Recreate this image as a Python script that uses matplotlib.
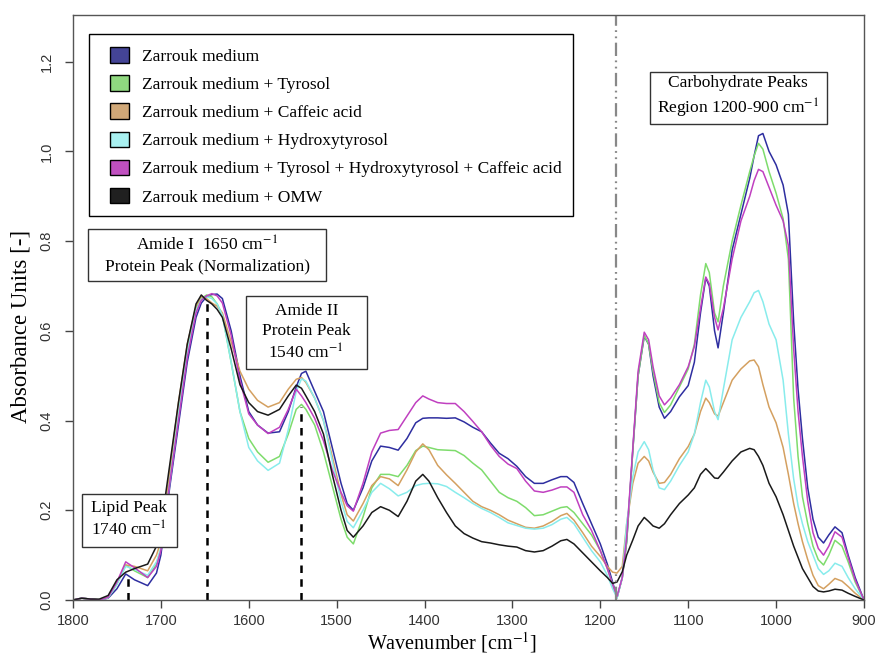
import numpy as np
import matplotlib
matplotlib.use("Agg")
import matplotlib.pyplot as plt
from matplotlib.patches import Patch, Rectangle

plt.rcParams['mathtext.fontset'] = 'stix'

# wavenumber grid (cm-1) and absorbance
wn = [1800, 1790, 1780, 1770, 1760, 1750, 1740, 1730, 1715, 1705, 1700,
      1690, 1680, 1670, 1660, 1654, 1648, 1642, 1636, 1630, 1620, 1610, 1600, 1590,
      1578, 1565, 1555, 1546, 1540, 1535, 1525, 1515, 1505, 1495, 1488, 1481,
      1470, 1460, 1450, 1440, 1430, 1420, 1410, 1402, 1395, 1385, 1375, 1365, 1355,
      1345, 1335, 1325, 1315, 1305, 1295, 1285, 1275, 1265, 1255, 1245, 1238, 1230,
      1220, 1210, 1200,
      1192, 1186, 1181, 1175, 1170, 1163, 1157, 1150, 1145, 1140, 1133, 1127, 1120,
      1110, 1100, 1093, 1086, 1080, 1076, 1070, 1066, 1060, 1050, 1040, 1030, 1025,
      1020, 1015, 1008, 1000,
      992, 986, 980, 975, 970, 964, 958, 952, 946, 940, 933, 925, 918, 910, 900]

zarrouk = [0, 0.004, 0.002, 0, 0.004, 0.025, 0.058, 0.045, 0.032, 0.06, 0.1,
           0.25, 0.39, 0.53, 0.63, 0.662, 0.676, 0.681, 0.682, 0.672, 0.6, 0.5, 0.42, 0.39,
           0.372, 0.375, 0.42, 0.475, 0.505, 0.51, 0.465, 0.42, 0.34, 0.26, 0.215, 0.2,
           0.25, 0.31, 0.343, 0.34, 0.334, 0.36, 0.395, 0.405, 0.406, 0.406, 0.405, 0.406, 0.397,
           0.385, 0.375, 0.35, 0.327, 0.315, 0.298, 0.275, 0.26, 0.26, 0.268, 0.275, 0.275, 0.262,
           0.215, 0.17, 0.125,
           0.08, 0.04, 0.005, 0.05, 0.13, 0.334, 0.5, 0.588, 0.57, 0.5, 0.43, 0.405, 0.42,
           0.453, 0.478, 0.53, 0.64, 0.718, 0.7, 0.6, 0.562, 0.64, 0.78, 0.86, 0.94, 0.99,
           1.035, 1.04, 1.0, 0.97,
           0.925, 0.86, 0.62, 0.47, 0.36, 0.25, 0.18, 0.14, 0.127, 0.145, 0.163, 0.15, 0.1, 0.05, 0]

tyrosol = [0, 0.004, 0.002, 0, 0.005, 0.035, 0.078, 0.065, 0.05, 0.08, 0.115,
           0.27, 0.41, 0.55, 0.65, 0.672, 0.68, 0.676, 0.66, 0.635, 0.53, 0.42, 0.36, 0.33,
           0.307, 0.32, 0.37, 0.425, 0.436, 0.425, 0.39, 0.33, 0.255, 0.18, 0.14, 0.125,
           0.185, 0.25, 0.28, 0.28, 0.275, 0.3, 0.333, 0.343, 0.34, 0.335, 0.334, 0.333, 0.322,
           0.305, 0.29, 0.265, 0.24, 0.228, 0.22, 0.206, 0.188, 0.19, 0.198, 0.206, 0.208, 0.195,
           0.17, 0.145, 0.11,
           0.07, 0.035, 0.005, 0.05, 0.13, 0.334, 0.5, 0.59, 0.57, 0.51, 0.44, 0.418, 0.435,
           0.475, 0.515, 0.57, 0.68, 0.75, 0.73, 0.64, 0.62, 0.70, 0.8, 0.88, 0.955, 0.99,
           1.018, 1.005, 0.955, 0.907,
           0.85, 0.76, 0.45, 0.32, 0.23, 0.17, 0.12, 0.09, 0.078, 0.1, 0.133, 0.12, 0.085, 0.04, 0]

caffeic = [0, 0.004, 0.002, 0, 0.006, 0.04, 0.078, 0.075, 0.065, 0.1, 0.13,
           0.29, 0.44, 0.57, 0.655, 0.676, 0.672, 0.662, 0.655, 0.64, 0.575, 0.51, 0.47, 0.445,
           0.43, 0.44, 0.47, 0.492, 0.496, 0.485, 0.45, 0.4, 0.32, 0.235, 0.19, 0.176,
           0.215, 0.255, 0.275, 0.27, 0.255, 0.29, 0.33, 0.348, 0.335, 0.3, 0.279, 0.26, 0.24,
           0.22, 0.208, 0.2, 0.19, 0.178, 0.17, 0.162, 0.16, 0.165, 0.175, 0.188, 0.193, 0.178,
           0.15, 0.12, 0.097,
           0.075, 0.062, 0.06, 0.075, 0.17, 0.26, 0.305, 0.32, 0.31, 0.285, 0.26, 0.262, 0.28,
           0.315, 0.342, 0.37, 0.42, 0.45, 0.44, 0.415, 0.41, 0.44, 0.49, 0.515, 0.533, 0.535,
           0.52, 0.48, 0.43, 0.395,
           0.34, 0.28, 0.215, 0.17, 0.13, 0.09, 0.055, 0.032, 0.025, 0.035, 0.048, 0.042, 0.03, 0.015, 0]

hydroxy = [0, 0.004, 0.002, 0, 0.005, 0.035, 0.075, 0.068, 0.055, 0.085, 0.115,
           0.26, 0.41, 0.55, 0.645, 0.67, 0.676, 0.672, 0.66, 0.635, 0.53, 0.42, 0.34, 0.31,
           0.289, 0.305, 0.38, 0.465, 0.493, 0.488, 0.45, 0.4, 0.31, 0.22, 0.175, 0.161,
           0.2, 0.24, 0.26, 0.248, 0.232, 0.24, 0.255, 0.259, 0.26, 0.259, 0.253, 0.24, 0.228,
           0.215, 0.204, 0.195, 0.184, 0.172, 0.166, 0.16, 0.158, 0.16, 0.168, 0.18, 0.184, 0.17,
           0.14, 0.11, 0.085,
           0.055, 0.025, 0.005, 0.05, 0.17, 0.275, 0.33, 0.353, 0.335, 0.29, 0.25, 0.246, 0.265,
           0.3, 0.33, 0.37, 0.44, 0.49, 0.475, 0.42, 0.402, 0.47, 0.58, 0.63, 0.665, 0.685,
           0.69, 0.665, 0.615, 0.58,
           0.49, 0.37, 0.27, 0.21, 0.17, 0.13, 0.1, 0.07, 0.057, 0.065, 0.082, 0.075, 0.05, 0.025, 0]

mix = [0, 0.004, 0.002, 0, 0.006, 0.04, 0.085, 0.072, 0.05, 0.075, 0.11,
       0.26, 0.4, 0.54, 0.64, 0.668, 0.678, 0.683, 0.678, 0.662, 0.59, 0.49, 0.415, 0.39,
       0.371, 0.385, 0.425, 0.47, 0.455, 0.44, 0.405, 0.355, 0.29, 0.24, 0.21, 0.198,
       0.26, 0.33, 0.372, 0.378, 0.38, 0.41, 0.44, 0.455, 0.448, 0.44, 0.438, 0.438, 0.42,
       0.398, 0.375, 0.345, 0.32, 0.303, 0.293, 0.265, 0.243, 0.24, 0.245, 0.252, 0.252, 0.24,
       0.19, 0.155, 0.11,
       0.07, 0.035, 0.008, 0.05, 0.14, 0.34, 0.51, 0.597, 0.58, 0.52, 0.455, 0.435, 0.45,
       0.48, 0.52, 0.565, 0.65, 0.72, 0.705, 0.63, 0.602, 0.65, 0.76, 0.845, 0.9, 0.935,
       0.96, 0.955, 0.92, 0.88,
       0.845, 0.79, 0.56, 0.42, 0.32, 0.22, 0.15, 0.115, 0.1, 0.12, 0.152, 0.14, 0.095, 0.045, 0]

omw = [0, 0.004, 0.002, 0.002, 0.01, 0.045, 0.062, 0.07, 0.08, 0.12, 0.16,
       0.3, 0.44, 0.57, 0.66, 0.68, 0.668, 0.66, 0.648, 0.63, 0.56, 0.48, 0.44, 0.42,
       0.412, 0.425, 0.455, 0.479, 0.472, 0.455, 0.42, 0.37, 0.28, 0.2, 0.155, 0.14,
       0.165, 0.195, 0.208, 0.2, 0.186, 0.22, 0.265, 0.28, 0.265, 0.228, 0.195, 0.165, 0.148,
       0.138, 0.13, 0.127, 0.123, 0.12, 0.118, 0.11, 0.107, 0.11, 0.12, 0.132, 0.135, 0.125,
       0.105, 0.085, 0.065,
       0.05, 0.037, 0.04, 0.063, 0.1, 0.134, 0.165, 0.184, 0.175, 0.165, 0.16, 0.17, 0.19,
       0.215, 0.234, 0.25, 0.28, 0.293, 0.285, 0.272, 0.271, 0.285, 0.31, 0.33, 0.338, 0.335,
       0.32, 0.3, 0.26, 0.23,
       0.19, 0.155, 0.12, 0.095, 0.07, 0.05, 0.03, 0.02, 0.018, 0.02, 0.024, 0.022, 0.015, 0.008, 0]

labels = ["Zarrouk medium",
          "Zarrouk medium + Tyrosol",
          "Zarrouk medium + Caffeic acid",
          "Zarrouk medium + Hydroxytyrosol",
          "Zarrouk medium + Tyrosol + Hydroxytyrosol + Caffeic acid",
          "Zarrouk medium + OMW"]
line_colors = ["#2e2ea0", "#7edc6c", "#d4a060", "#88ecec", "#c040c0", "#1a1a1a"]
box_colors = ["#444496", "#90d880", "#d0a878", "#a8f0f0", "#c050c0", "#202020"]

serif = "Liberation Serif"
sans = "Liberation Sans"
fs = 12.5

fig = plt.figure(figsize=(8.75, 6.55), dpi=100)
ax = fig.add_axes([0.0834, 0.084, 0.904, 0.893])

for ys, c in zip([zarrouk, tyrosol, caffeic, hydroxy, mix, omw], line_colors):
    ax.plot(wn, ys, color=c, lw=1.1)

# peak markers
ax.vlines([1737], 0, 0.055, colors="black", linestyles=(0, (3, 2.5)), lw=1.8)
ax.vlines([1648], 0, 0.67, colors="black", linestyles=(0, (3, 2.5)), lw=1.8)
ax.vlines([1541], 0, 0.43, colors="black", linestyles=(0, (3, 2.5)), lw=1.8)
ax.axvline(1182, color="#888888", lw=1.6, linestyle=(0, (6, 2, 0.8, 2, 0.8, 2)))


def note(x0, x1, y0, y1, txt):
    ax.add_patch(Rectangle((x0, y0), x1 - x0, y1 - y0, fc="white", ec="#333333",
                           lw=1, zorder=4))
    ax.text((x0 + x1) / 2, (y0 + y1) / 2, txt, ha="center", va="center",
            fontsize=fs, family=serif, linespacing=1.3, zorder=5)


note(1783, 1512, 0.711, 0.827, "Amide I  1650 cm$^{-1}$\nProtein Peak (Normalization)")
note(1603, 1466, 0.514, 0.678, "Amide II\nProtein Peak\n1540 cm$^{-1}$")
note(1790, 1682, 0.119, 0.236, "Lipid Peak\n1740 cm$^{-1}$")
note(1144, 942.5, 1.062, 1.178, "Carbohydrate Peaks\nRegion 1200-900 cm$^{-1}$")

# legend: frame drawn separately so padding matches
ax.add_patch(Rectangle((0.0202, 0.656), 0.612, 0.3115, transform=ax.transAxes,
                       fc="white", ec="black", lw=1, zorder=4))
handles = [Patch(facecolor=c, edgecolor="black", lw=1) for c in box_colors]
leg = ax.legend(handles, labels, loc="upper left", bbox_to_anchor=(0.047, 0.945),
                borderaxespad=0, borderpad=0, frameon=False,
                prop={"family": serif, "size": fs}, handlelength=1.1, handleheight=1.0,
                handletextpad=0.75, labelspacing=0.6)
leg.set_zorder(6)

ax.set_xlim(1800, 900)
ax.set_ylim(0, 1.304)
ax.set_xticks(np.arange(1800, 899, -100))
ax.set_yticks(np.arange(0, 1.21, 0.2))
ax.set_yticklabels([f"{v:.1f}" for v in np.arange(0, 1.21, 0.2)], rotation=90, va="center")
for lab in ax.get_xticklabels() + ax.get_yticklabels():
    lab.set_fontfamily(sans)
    lab.set_fontsize(10.5)
    lab.set_color("#333333")
ax.tick_params(axis="both", direction="out", length=6, color="#444444", width=1)
ax.tick_params(axis="x", pad=4)
ax.tick_params(axis="y", pad=8)
for s in ax.spines.values():
    s.set_color("#555555")
    s.set_linewidth(1)

ax.set_xlabel("Wavenumber [cm$^{-1}$]", fontsize=14.5, family=serif)
ax.set_ylabel("Absorbance Units [-]", fontsize=16.5, family=serif)
ax.xaxis.set_label_coords(0.479, -0.052)
ax.yaxis.set_label_coords(-0.052, 0.468)

fig.savefig("out.png", dpi=100)
